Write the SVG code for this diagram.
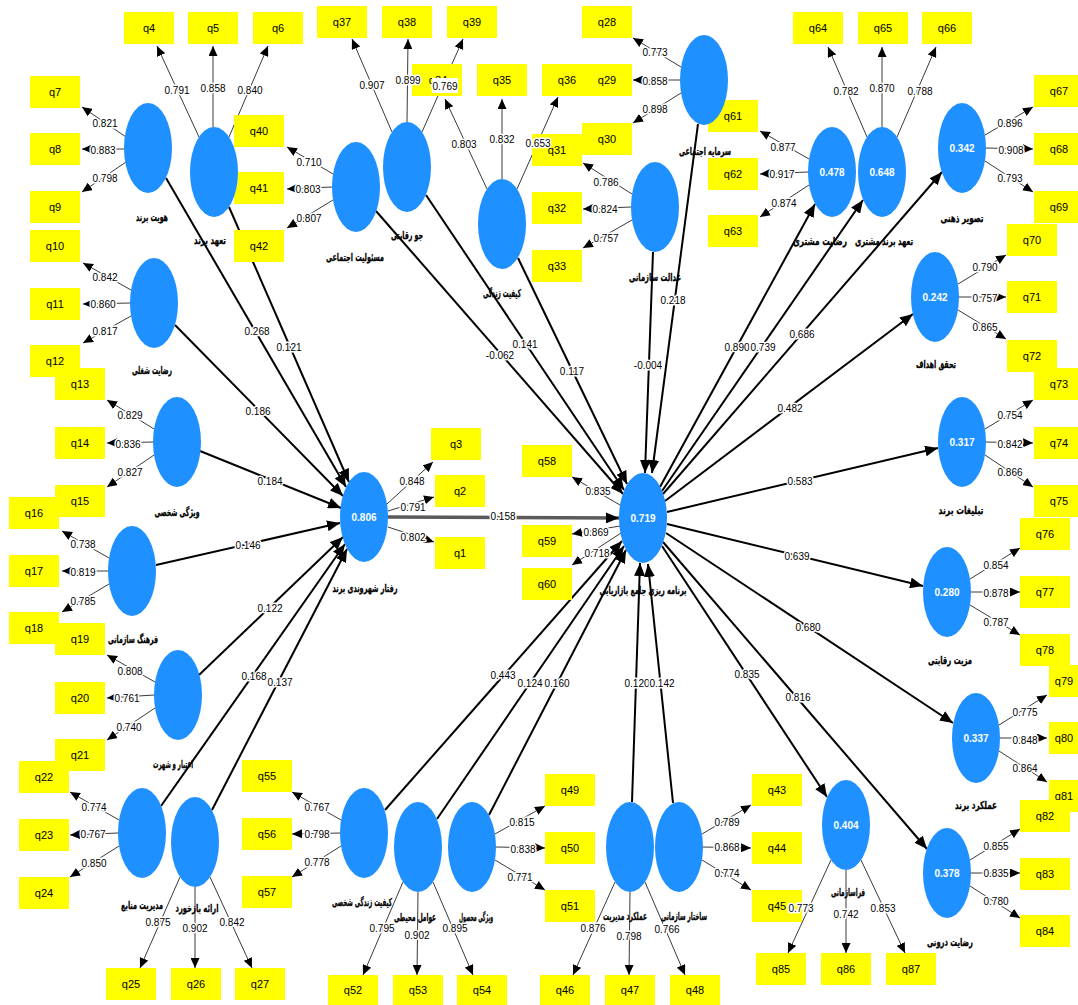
<svg xmlns="http://www.w3.org/2000/svg" width="1078" height="1005" viewBox="0 0 1078 1005">
<style>
.bg{fill:#fff}
.box{fill:#ffff00}
.bt{font-family:"Liberation Sans",Arial,sans-serif;font-size:11px;fill:#000;text-anchor:middle;dominant-baseline:central}
.lv{fill:#1e90ff}
.val{font-family:"Liberation Sans",Arial,sans-serif;font-size:10px;font-weight:bold;fill:#fff;text-anchor:middle;dominant-baseline:central}
.nm{font-family:"DejaVu Sans",sans-serif;font-size:11px;font-weight:bold;fill:#000;stroke:#000;stroke-width:0.3px;text-anchor:middle;dominant-baseline:central}
.ld{stroke:#3a3a3a;stroke-width:1;fill:none;marker-end:url(#as)}
.pt{stroke:#000;stroke-width:2;fill:none;marker-end:url(#ab)}
.pt2{stroke:#5a5a5a;stroke-width:3.5;fill:none;marker-end:url(#ab)}
.lb{font-family:"Liberation Sans",Arial,sans-serif;font-size:10px;fill:#000;text-anchor:middle;dominant-baseline:central;paint-order:stroke;stroke:#fff;stroke-width:3px;stroke-linejoin:round}
</style>
<defs>
<marker id="ab" markerWidth="13" markerHeight="11" refX="13" refY="5.5" orient="auto" markerUnits="userSpaceOnUse"><path d="M0,0 L13,5.5 L0,11 z" fill="#000"/></marker>
<marker id="as" markerWidth="10" markerHeight="9" refX="10" refY="4.5" orient="auto" markerUnits="userSpaceOnUse"><path d="M0,0 L10,4.5 L0,9 z" fill="#000"/></marker>
</defs>
<rect class="bg" x="0" y="0" width="1078" height="1005"/>

<g id="connectors">
<!-- outer loadings: construct to indicator -->
<line class="ld" x1="126" y1="137" x2="82" y2="107"/>
<line class="ld" x1="124" y1="149" x2="82" y2="149"/>
<line class="ld" x1="126" y1="162" x2="82" y2="192"/>
<line class="ld" x1="199" y1="137" x2="157" y2="46"/>
<line class="ld" x1="213" y1="127" x2="213" y2="46"/>
<line class="ld" x1="229" y1="137" x2="268" y2="46"/>
<line class="ld" x1="131" y1="290" x2="83" y2="263"/>
<line class="ld" x1="130" y1="303" x2="83" y2="304"/>
<line class="ld" x1="131" y1="316" x2="83" y2="343"/>
<line class="ld" x1="154" y1="429" x2="107" y2="400"/>
<line class="ld" x1="153" y1="442" x2="107" y2="443"/>
<line class="ld" x1="154" y1="455" x2="107" y2="487"/>
<line class="ld" x1="109" y1="558" x2="62" y2="531"/>
<line class="ld" x1="108" y1="571" x2="62" y2="571"/>
<line class="ld" x1="109" y1="584" x2="62" y2="612"/>
<line class="ld" x1="155" y1="682" x2="107" y2="655"/>
<line class="ld" x1="154" y1="695" x2="107" y2="698"/>
<line class="ld" x1="155" y1="708" x2="107" y2="740"/>
<line class="ld" x1="119" y1="820" x2="70" y2="792"/>
<line class="ld" x1="118" y1="833" x2="70" y2="835"/>
<line class="ld" x1="119" y1="846" x2="70" y2="877"/>
<line class="ld" x1="180" y1="877" x2="140" y2="968"/>
<line class="ld" x1="195" y1="887" x2="195" y2="968"/>
<line class="ld" x1="210" y1="877" x2="252" y2="968"/>
<line class="ld" x1="333" y1="174" x2="287" y2="147"/>
<line class="ld" x1="332" y1="187" x2="287" y2="189"/>
<line class="ld" x1="333" y1="200" x2="287" y2="228"/>
<line class="ld" x1="392" y1="132" x2="352" y2="39"/>
<line class="ld" x1="407" y1="122" x2="408" y2="39"/>
<line class="ld" x1="422" y1="132" x2="463" y2="39"/>
<line class="ld" x1="487" y1="189" x2="445" y2="99"/>
<line class="ld" x1="502" y1="179" x2="502" y2="99"/>
<line class="ld" x1="517" y1="189" x2="558" y2="97"/>
<line class="ld" x1="681" y1="67" x2="633" y2="38"/>
<line class="ld" x1="680" y1="80" x2="633" y2="80"/>
<line class="ld" x1="681" y1="93" x2="633" y2="123"/>
<line class="ld" x1="632" y1="194" x2="583" y2="163"/>
<line class="ld" x1="631" y1="207" x2="583" y2="209"/>
<line class="ld" x1="632" y1="220" x2="583" y2="248"/>
<line class="ld" x1="387" y1="504" x2="433" y2="462"/>
<line class="ld" x1="388" y1="511" x2="434" y2="497"/>
<line class="ld" x1="388" y1="527" x2="434" y2="542"/>
<line class="ld" x1="620" y1="505" x2="572" y2="477"/>
<line class="ld" x1="620" y1="526" x2="572" y2="534"/>
<line class="ld" x1="621" y1="533" x2="572" y2="565"/>
<line class="ld" x1="809" y1="159" x2="760" y2="131"/>
<line class="ld" x1="808" y1="172" x2="760" y2="174"/>
<line class="ld" x1="809" y1="185" x2="760" y2="217"/>
<line class="ld" x1="867" y1="137" x2="828" y2="47"/>
<line class="ld" x1="882" y1="127" x2="882" y2="47"/>
<line class="ld" x1="897" y1="137" x2="936" y2="47"/>
<line class="ld" x1="985" y1="135" x2="1033" y2="107"/>
<line class="ld" x1="986" y1="148" x2="1033" y2="149"/>
<line class="ld" x1="985" y1="161" x2="1033" y2="192"/>
<line class="ld" x1="958" y1="284" x2="1006" y2="255"/>
<line class="ld" x1="959" y1="297" x2="1006" y2="297"/>
<line class="ld" x1="958" y1="310" x2="1006" y2="339"/>
<line class="ld" x1="985" y1="429" x2="1033" y2="400"/>
<line class="ld" x1="986" y1="442" x2="1033" y2="443"/>
<line class="ld" x1="985" y1="455" x2="1033" y2="487"/>
<line class="ld" x1="970" y1="579" x2="1020" y2="548"/>
<line class="ld" x1="971" y1="592" x2="1020" y2="592"/>
<line class="ld" x1="970" y1="605" x2="1020" y2="635"/>
<line class="ld" x1="999" y1="725" x2="1047" y2="695"/>
<line class="ld" x1="1000" y1="738" x2="1047" y2="738"/>
<line class="ld" x1="999" y1="751" x2="1047" y2="782"/>
<line class="ld" x1="970" y1="860" x2="1020" y2="829"/>
<line class="ld" x1="971" y1="873" x2="1020" y2="873"/>
<line class="ld" x1="970" y1="886" x2="1020" y2="918"/>
<line class="ld" x1="831" y1="860" x2="788" y2="953"/>
<line class="ld" x1="846" y1="870" x2="846" y2="953"/>
<line class="ld" x1="861" y1="860" x2="905" y2="953"/>
<line class="ld" x1="341" y1="820" x2="292" y2="792"/>
<line class="ld" x1="340" y1="833" x2="292" y2="834"/>
<line class="ld" x1="341" y1="846" x2="292" y2="877"/>
<line class="ld" x1="403" y1="882" x2="363" y2="975"/>
<line class="ld" x1="418" y1="892" x2="417" y2="975"/>
<line class="ld" x1="433" y1="882" x2="473" y2="975"/>
<line class="ld" x1="495" y1="834" x2="545" y2="806"/>
<line class="ld" x1="496" y1="847" x2="545" y2="848"/>
<line class="ld" x1="495" y1="860" x2="545" y2="890"/>
<line class="ld" x1="615" y1="882" x2="573" y2="975"/>
<line class="ld" x1="630" y1="892" x2="629" y2="975"/>
<line class="ld" x1="645" y1="882" x2="685" y2="975"/>
<line class="ld" x1="702" y1="834" x2="751" y2="805"/>
<line class="ld" x1="703" y1="847" x2="751" y2="848"/>
<line class="ld" x1="702" y1="860" x2="751" y2="890"/>

<!-- inner model paths -->
<line class="pt" x1="166" y1="178" x2="346" y2="487"/>
<line class="pt" x1="229" y1="207" x2="349" y2="482"/>
<line class="pt" x1="175" y1="325" x2="343" y2="496"/>
<line class="pt" x1="200" y1="451" x2="341" y2="508"/>
<line class="pt" x1="156" y1="565" x2="340" y2="523"/>
<line class="pt" x1="199" y1="675" x2="343" y2="537"/>
<line class="pt" x1="161" y1="806" x2="345" y2="544"/>
<line class="pt" x1="212" y1="810" x2="347" y2="549"/>
<line class="pt2" x1="388" y1="517" x2="619" y2="518"/>
<line class="pt" x1="376" y1="211" x2="623" y2="494"/>
<line class="pt" x1="426" y1="195" x2="624" y2="490"/>
<line class="pt" x1="518" y1="258" x2="627" y2="484"/>
<line class="pt" x1="653" y1="252" x2="645" y2="473"/>
<line class="pt" x1="698" y1="124" x2="652" y2="473"/>
<line class="pt" x1="385" y1="810" x2="622" y2="541"/>
<line class="pt" x1="437" y1="819" x2="624" y2="546"/>
<line class="pt" x1="489" y1="815" x2="626" y2="550"/>
<line class="pt" x1="632" y1="802" x2="640" y2="563"/>
<line class="pt" x1="673" y1="803" x2="648" y2="564"/>
<line class="pt" x1="660" y1="487" x2="815" y2="204"/>
<line class="pt" x1="662" y1="491" x2="863" y2="200"/>
<line class="pt" x1="663" y1="494" x2="942" y2="172"/>
<line class="pt" x1="665" y1="501" x2="913" y2="314"/>
<line class="pt" x1="667" y1="512" x2="938" y2="448"/>
<line class="pt" x1="667" y1="524" x2="923" y2="586"/>
<line class="pt" x1="666" y1="533" x2="953" y2="723"/>
<line class="pt" x1="663" y1="542" x2="927" y2="849"/>
<line class="pt" x1="662" y1="546" x2="827" y2="797"/>
</g>

<!-- indicators -->
<g id="q1"><rect class="box" x="435" y="537" width="50" height="32"/><text class="bt" x="460" y="553">q1</text></g>
<g id="q2"><rect class="box" x="435" y="475" width="50" height="32"/><text class="bt" x="460" y="491">q2</text></g>
<g id="q3"><rect class="box" x="431" y="428" width="50" height="32"/><text class="bt" x="456" y="444">q3</text></g>
<g id="q4"><rect class="box" x="124" y="12" width="50" height="32"/><text class="bt" x="149" y="28">q4</text></g>
<g id="q5"><rect class="box" x="188" y="12" width="50" height="32"/><text class="bt" x="213" y="28">q5</text></g>
<g id="q6"><rect class="box" x="253" y="12" width="50" height="32"/><text class="bt" x="278" y="28">q6</text></g>
<g id="q7"><rect class="box" x="30" y="76" width="50" height="32"/><text class="bt" x="55" y="92">q7</text></g>
<g id="q8"><rect class="box" x="30" y="133" width="50" height="32"/><text class="bt" x="55" y="149">q8</text></g>
<g id="q9"><rect class="box" x="30" y="191" width="50" height="32"/><text class="bt" x="55" y="207">q9</text></g>
<g id="q10"><rect class="box" x="30" y="230" width="50" height="32"/><text class="bt" x="55" y="246">q10</text></g>
<g id="q11"><rect class="box" x="30" y="288" width="50" height="32"/><text class="bt" x="55" y="304">q11</text></g>
<g id="q12"><rect class="box" x="30" y="345" width="50" height="32"/><text class="bt" x="55" y="361">q12</text></g>
<g id="q13"><rect class="box" x="55" y="368" width="50" height="32"/><text class="bt" x="80" y="384">q13</text></g>
<g id="q14"><rect class="box" x="55" y="427" width="50" height="32"/><text class="bt" x="80" y="443">q14</text></g>
<g id="q15"><rect class="box" x="55" y="485" width="50" height="32"/><text class="bt" x="80" y="501">q15</text></g>
<g id="q16"><rect class="box" x="9" y="497" width="50" height="32"/><text class="bt" x="34" y="513">q16</text></g>
<g id="q17"><rect class="box" x="9" y="555" width="50" height="32"/><text class="bt" x="34" y="571">q17</text></g>
<g id="q18"><rect class="box" x="9" y="612" width="50" height="32"/><text class="bt" x="34" y="628">q18</text></g>
<g id="q19"><rect class="box" x="55" y="623" width="50" height="32"/><text class="bt" x="80" y="639">q19</text></g>
<g id="q20"><rect class="box" x="55" y="682" width="50" height="32"/><text class="bt" x="80" y="698">q20</text></g>
<g id="q21"><rect class="box" x="55" y="739" width="50" height="32"/><text class="bt" x="80" y="755">q21</text></g>
<g id="q22"><rect class="box" x="19" y="761" width="50" height="32"/><text class="bt" x="44" y="777">q22</text></g>
<g id="q23"><rect class="box" x="19" y="819" width="50" height="32"/><text class="bt" x="44" y="835">q23</text></g>
<g id="q24"><rect class="box" x="19" y="877" width="50" height="32"/><text class="bt" x="44" y="893">q24</text></g>
<g id="q25"><rect class="box" x="106" y="968" width="50" height="32"/><text class="bt" x="131" y="984">q25</text></g>
<g id="q26"><rect class="box" x="171" y="968" width="50" height="32"/><text class="bt" x="196" y="984">q26</text></g>
<g id="q27"><rect class="box" x="235" y="968" width="50" height="32"/><text class="bt" x="260" y="984">q27</text></g>
<g id="q28"><rect class="box" x="582" y="6" width="50" height="32"/><text class="bt" x="607" y="22">q28</text></g>
<g id="q36"><rect class="box" x="542" y="64" width="50" height="32"/><text class="bt" x="567" y="80">q36</text></g>
<g id="q29"><rect class="box" x="582" y="64" width="50" height="32"/><text class="bt" x="607" y="80">q29</text></g>
<g id="q30"><rect class="box" x="582" y="123" width="50" height="32"/><text class="bt" x="607" y="139">q30</text></g>
<g id="q31"><rect class="box" x="532" y="134" width="50" height="32"/><text class="bt" x="557" y="150">q31</text></g>
<g id="q32"><rect class="box" x="532" y="192" width="50" height="32"/><text class="bt" x="557" y="208">q32</text></g>
<g id="q33"><rect class="box" x="532" y="250" width="50" height="32"/><text class="bt" x="557" y="266">q33</text></g>
<g id="q34"><rect class="box" x="412" y="64" width="50" height="32"/><text class="bt" x="438" y="80">q34</text></g>
<g id="q35"><rect class="box" x="477" y="64" width="50" height="32"/><text class="bt" x="502" y="80">q35</text></g>
<g id="q37"><rect class="box" x="317" y="6" width="50" height="32"/><text class="bt" x="342" y="22">q37</text></g>
<g id="q38"><rect class="box" x="382" y="6" width="50" height="32"/><text class="bt" x="407" y="22">q38</text></g>
<g id="q39"><rect class="box" x="447" y="6" width="50" height="32"/><text class="bt" x="472" y="22">q39</text></g>
<g id="q40"><rect class="box" x="234" y="115" width="50" height="32"/><text class="bt" x="259" y="131">q40</text></g>
<g id="q41"><rect class="box" x="234" y="172" width="50" height="32"/><text class="bt" x="259" y="188">q41</text></g>
<g id="q42"><rect class="box" x="234" y="230" width="50" height="32"/><text class="bt" x="259" y="246">q42</text></g>
<g id="q43"><rect class="box" x="752" y="774" width="50" height="32"/><text class="bt" x="777" y="790">q43</text></g>
<g id="q44"><rect class="box" x="752" y="832" width="50" height="32"/><text class="bt" x="777" y="848">q44</text></g>
<g id="q45"><rect class="box" x="752" y="890" width="50" height="32"/><text class="bt" x="777" y="906">q45</text></g>
<g id="q46"><rect class="box" x="540" y="975" width="50" height="30"/><text class="bt" x="565" y="990">q46</text></g>
<g id="q47"><rect class="box" x="605" y="975" width="50" height="30"/><text class="bt" x="630" y="990">q47</text></g>
<g id="q48"><rect class="box" x="670" y="975" width="50" height="30"/><text class="bt" x="695" y="990">q48</text></g>
<g id="q49"><rect class="box" x="545" y="774" width="50" height="32"/><text class="bt" x="570" y="790">q49</text></g>
<g id="q50"><rect class="box" x="545" y="832" width="50" height="32"/><text class="bt" x="570" y="848">q50</text></g>
<g id="q51"><rect class="box" x="545" y="890" width="50" height="32"/><text class="bt" x="570" y="906">q51</text></g>
<g id="q52"><rect class="box" x="328" y="975" width="50" height="30"/><text class="bt" x="353" y="990">q52</text></g>
<g id="q53"><rect class="box" x="393" y="975" width="50" height="30"/><text class="bt" x="418" y="990">q53</text></g>
<g id="q54"><rect class="box" x="457" y="975" width="50" height="30"/><text class="bt" x="482" y="990">q54</text></g>
<g id="q55"><rect class="box" x="242" y="760" width="50" height="32"/><text class="bt" x="267" y="776">q55</text></g>
<g id="q56"><rect class="box" x="242" y="818" width="50" height="32"/><text class="bt" x="267" y="834">q56</text></g>
<g id="q57"><rect class="box" x="242" y="876" width="50" height="32"/><text class="bt" x="267" y="892">q57</text></g>
<g id="q58"><rect class="box" x="522" y="445" width="50" height="32"/><text class="bt" x="547" y="461">q58</text></g>
<g id="q59"><rect class="box" x="522" y="525" width="50" height="32"/><text class="bt" x="547" y="541">q59</text></g>
<g id="q60"><rect class="box" x="522" y="568" width="50" height="32"/><text class="bt" x="547" y="584">q60</text></g>
<g id="q61"><rect class="box" x="708" y="100" width="50" height="32"/><text class="bt" x="733" y="116">q61</text></g>
<g id="q62"><rect class="box" x="708" y="158" width="50" height="32"/><text class="bt" x="733" y="174">q62</text></g>
<g id="q63"><rect class="box" x="708" y="215" width="50" height="32"/><text class="bt" x="733" y="231">q63</text></g>
<g id="q64"><rect class="box" x="793" y="12" width="50" height="32"/><text class="bt" x="818" y="28">q64</text></g>
<g id="q65"><rect class="box" x="858" y="12" width="50" height="32"/><text class="bt" x="883" y="28">q65</text></g>
<g id="q66"><rect class="box" x="922" y="12" width="50" height="32"/><text class="bt" x="947" y="28">q66</text></g>
<g id="q67"><rect class="box" x="1034" y="75" width="50" height="32"/><text class="bt" x="1059" y="91">q67</text></g>
<g id="q68"><rect class="box" x="1034" y="133" width="50" height="32"/><text class="bt" x="1059" y="149">q68</text></g>
<g id="q69"><rect class="box" x="1034" y="191" width="50" height="32"/><text class="bt" x="1059" y="207">q69</text></g>
<g id="q70"><rect class="box" x="1007" y="224" width="50" height="32"/><text class="bt" x="1032" y="240">q70</text></g>
<g id="q71"><rect class="box" x="1007" y="281" width="50" height="32"/><text class="bt" x="1032" y="297">q71</text></g>
<g id="q72"><rect class="box" x="1007" y="340" width="50" height="32"/><text class="bt" x="1032" y="356">q72</text></g>
<g id="q73"><rect class="box" x="1034" y="368" width="50" height="32"/><text class="bt" x="1059" y="384">q73</text></g>
<g id="q74"><rect class="box" x="1034" y="427" width="50" height="32"/><text class="bt" x="1059" y="443">q74</text></g>
<g id="q75"><rect class="box" x="1034" y="485" width="50" height="32"/><text class="bt" x="1059" y="501">q75</text></g>
<g id="q76"><rect class="box" x="1020" y="518" width="50" height="32"/><text class="bt" x="1045" y="534">q76</text></g>
<g id="q77"><rect class="box" x="1020" y="576" width="50" height="32"/><text class="bt" x="1045" y="592">q77</text></g>
<g id="q78"><rect class="box" x="1020" y="634" width="50" height="32"/><text class="bt" x="1045" y="650">q78</text></g>
<g id="q79"><rect class="box" x="1049" y="665" width="50" height="32"/><text class="bt" x="1064" y="681">q79</text></g>
<g id="q80"><rect class="box" x="1049" y="722" width="50" height="32"/><text class="bt" x="1064" y="738">q80</text></g>
<g id="q81"><rect class="box" x="1049" y="780" width="50" height="32"/><text class="bt" x="1064" y="796">q81</text></g>
<g id="q82"><rect class="box" x="1020" y="800" width="50" height="32"/><text class="bt" x="1045" y="816">q82</text></g>
<g id="q83"><rect class="box" x="1020" y="858" width="50" height="32"/><text class="bt" x="1045" y="874">q83</text></g>
<g id="q84"><rect class="box" x="1020" y="915" width="50" height="32"/><text class="bt" x="1045" y="931">q84</text></g>
<g id="q85"><rect class="box" x="756" y="953" width="50" height="32"/><text class="bt" x="781" y="969">q85</text></g>
<g id="q86"><rect class="box" x="821" y="953" width="50" height="32"/><text class="bt" x="846" y="969">q86</text></g>
<g id="q87"><rect class="box" x="886" y="953" width="50" height="32"/><text class="bt" x="911" y="969">q87</text></g>

<!-- latent constructs -->
<g id="lv-hoviat"><ellipse class="lv" cx="148" cy="148" rx="24" ry="45"/><text class="nm" x="152" y="217" textLength="32" lengthAdjust="spacingAndGlyphs">هویت برند</text></g>
<g id="lv-taahod"><ellipse class="lv" cx="214" cy="172" rx="24" ry="45"/><text class="nm" x="210" y="240" textLength="32" lengthAdjust="spacingAndGlyphs">تعهد برند</text></g>
<g id="lv-rezayat-shoghli"><ellipse class="lv" cx="154" cy="303" rx="24" ry="45"/><text class="nm" x="152" y="370" textLength="40" lengthAdjust="spacingAndGlyphs">رضایت شغلی</text></g>
<g id="lv-vizhegi-shakhsi"><ellipse class="lv" cx="177" cy="442" rx="24" ry="45"/><text class="nm" x="177" y="512" textLength="45" lengthAdjust="spacingAndGlyphs">ویژگی شخصی</text></g>
<g id="lv-farhang"><ellipse class="lv" cx="132" cy="571" rx="24" ry="45"/><text class="nm" x="133" y="639" textLength="50" lengthAdjust="spacingAndGlyphs">فرهنگ سازمانی</text></g>
<g id="lv-etebar"><ellipse class="lv" cx="178" cy="695" rx="24" ry="45"/><text class="nm" x="173" y="764" textLength="40" lengthAdjust="spacingAndGlyphs">اعتبار و شهرت</text></g>
<g id="lv-modiriat-manabe"><ellipse class="lv" cx="142" cy="833" rx="24" ry="45"/><text class="nm" x="142" y="905" textLength="42" lengthAdjust="spacingAndGlyphs">مدیریت منابع</text></g>
<g id="lv-bazkhord"><ellipse class="lv" cx="195" cy="842" rx="24" ry="45"/><text class="nm" x="197" y="908" textLength="43" lengthAdjust="spacingAndGlyphs">ارائه بازخورد</text></g>
<g id="lv-masouliat"><ellipse class="lv" cx="356" cy="187" rx="24" ry="45"/><text class="nm" x="355" y="257" textLength="58" lengthAdjust="spacingAndGlyphs">مسئولیت اجتماعی</text></g>
<g id="lv-jav"><ellipse class="lv" cx="407" cy="167" rx="24" ry="45"/><text class="nm" x="407" y="235" textLength="32" lengthAdjust="spacingAndGlyphs">جو رقابتی</text></g>
<g id="lv-keyfiat"><ellipse class="lv" cx="502" cy="224" rx="24" ry="45"/><text class="nm" x="502" y="293" textLength="38" lengthAdjust="spacingAndGlyphs">کیفیت زندگی</text></g>
<g id="lv-sarmaye"><ellipse class="lv" cx="704" cy="80" rx="24" ry="45"/><text class="nm" x="705" y="151" textLength="52" lengthAdjust="spacingAndGlyphs">سرمایه اجتماعی</text></g>
<g id="lv-edalat"><ellipse class="lv" cx="655" cy="207" rx="24" ry="45"/><text class="nm" x="655" y="277" textLength="52" lengthAdjust="spacingAndGlyphs">عدالت سازمانی</text></g>
<g id="lv-raftar"><ellipse class="lv" cx="364" cy="517" rx="24" ry="45"/><text class="val" x="364" y="517">0.806</text><text class="nm" x="365" y="588" textLength="65" lengthAdjust="spacingAndGlyphs">رفتار شهروندی برند</text></g>
<g id="lv-barnameh"><ellipse class="lv" cx="643" cy="518" rx="24" ry="45"/><text class="val" x="643" y="518">0.719</text><text class="nm" x="643" y="590" textLength="87" lengthAdjust="spacingAndGlyphs">برنامه ریزی جامع بازاریابی</text></g>
<g id="lv-rezayat-moshtari"><ellipse class="lv" cx="832" cy="172" rx="24" ry="45"/><text class="val" x="832" y="172">0.478</text><text class="nm" x="820" y="241" textLength="54" lengthAdjust="spacingAndGlyphs">رضایت مشتری</text></g>
<g id="lv-taahod-moshtari"><ellipse class="lv" cx="882" cy="172" rx="24" ry="45"/><text class="val" x="882" y="172">0.648</text><text class="nm" x="884" y="241" textLength="58" lengthAdjust="spacingAndGlyphs">تعهد برند مشتری</text></g>
<g id="lv-tasvir"><ellipse class="lv" cx="962" cy="148" rx="24" ry="45"/><text class="val" x="962" y="148">0.342</text><text class="nm" x="962" y="218" textLength="43" lengthAdjust="spacingAndGlyphs">تصویر ذهنی</text></g>
<g id="lv-tahaghogh"><ellipse class="lv" cx="935" cy="297" rx="24" ry="45"/><text class="val" x="935" y="297">0.242</text><text class="nm" x="936" y="364" textLength="40" lengthAdjust="spacingAndGlyphs">تحقق اهداف</text></g>
<g id="lv-tabliqat"><ellipse class="lv" cx="962" cy="442" rx="24" ry="45"/><text class="val" x="962" y="442">0.317</text><text class="nm" x="961" y="510" textLength="45" lengthAdjust="spacingAndGlyphs">تبلیغات برند</text></g>
<g id="lv-mazit"><ellipse class="lv" cx="947" cy="592" rx="24" ry="45"/><text class="val" x="947" y="592">0.280</text><text class="nm" x="950" y="660" textLength="44" lengthAdjust="spacingAndGlyphs">مزیت رقابتی</text></g>
<g id="lv-amalkard-brand"><ellipse class="lv" cx="976" cy="738" rx="24" ry="45"/><text class="val" x="976" y="738">0.337</text><text class="nm" x="976" y="805" textLength="42" lengthAdjust="spacingAndGlyphs">عملکرد برند</text></g>
<g id="lv-rezayat-darooni"><ellipse class="lv" cx="947" cy="873" rx="24" ry="45"/><text class="val" x="947" y="873">0.378</text><text class="nm" x="950" y="942" textLength="46" lengthAdjust="spacingAndGlyphs">رضایت درونی</text></g>
<g id="lv-farasazmani"><ellipse class="lv" cx="846" cy="825" rx="24" ry="45"/><text class="val" x="846" y="825">0.404</text><text class="nm" x="848" y="892" textLength="34" lengthAdjust="spacingAndGlyphs">فراسازمانی</text></g>
<g id="lv-keyfiat-shakhsi"><ellipse class="lv" cx="364" cy="833" rx="24" ry="45"/><text class="nm" x="362" y="902" textLength="60" lengthAdjust="spacingAndGlyphs">کیفیت زندگی شخصی</text></g>
<g id="lv-avamel"><ellipse class="lv" cx="418" cy="847" rx="24" ry="45"/><text class="nm" x="415" y="917" textLength="42" lengthAdjust="spacingAndGlyphs">عوامل محیطی</text></g>
<g id="lv-vizhegi-mahsool"><ellipse class="lv" cx="472" cy="847" rx="24" ry="45"/><text class="nm" x="476" y="917" textLength="34" lengthAdjust="spacingAndGlyphs">ویژگی محصول</text></g>
<g id="lv-amalkard-modiriat"><ellipse class="lv" cx="630" cy="847" rx="24" ry="45"/><text class="nm" x="625" y="916" textLength="44" lengthAdjust="spacingAndGlyphs">عملکرد مدیریت</text></g>
<g id="lv-sakhtar"><ellipse class="lv" cx="679" cy="847" rx="24" ry="45"/><text class="nm" x="684" y="916" textLength="46" lengthAdjust="spacingAndGlyphs">ساختار سازمانی</text></g>

<g id="connector-labels">
<text class="lb" x="105" y="123">0.821</text>
<text class="lb" x="103" y="150">0.883</text>
<text class="lb" x="105" y="178">0.798</text>
<text class="lb" x="177" y="90">0.791</text>
<text class="lb" x="213" y="88">0.858</text>
<text class="lb" x="250" y="90">0.840</text>
<text class="lb" x="105" y="277">0.842</text>
<text class="lb" x="103" y="304">0.860</text>
<text class="lb" x="105" y="331">0.817</text>
<text class="lb" x="130" y="415">0.829</text>
<text class="lb" x="128" y="444">0.836</text>
<text class="lb" x="130" y="472">0.827</text>
<text class="lb" x="83" y="544">0.738</text>
<text class="lb" x="83" y="572">0.819</text>
<text class="lb" x="83" y="601">0.785</text>
<text class="lb" x="130" y="671">0.808</text>
<text class="lb" x="127" y="698">0.761</text>
<text class="lb" x="129" y="727">0.740</text>
<text class="lb" x="94" y="807">0.774</text>
<text class="lb" x="93" y="834">0.767</text>
<text class="lb" x="94" y="863">0.850</text>
<text class="lb" x="158" y="922">0.875</text>
<text class="lb" x="195" y="928">0.902</text>
<text class="lb" x="232" y="922">0.842</text>
<text class="lb" x="309" y="162">0.710</text>
<text class="lb" x="308" y="189">0.803</text>
<text class="lb" x="309" y="218">0.807</text>
<text class="lb" x="372" y="85">0.907</text>
<text class="lb" x="408" y="80">0.899</text>
<rect x="432" y="78" width="26" height="15" fill="#fff"/>
<text class="lb" x="445" y="86">0.769</text>
<text class="lb" x="464" y="144">0.803</text>
<text class="lb" x="502" y="139">0.832</text>
<text class="lb" x="538" y="143">0.653</text>
<text class="lb" x="655" y="52">0.773</text>
<text class="lb" x="655" y="81">0.858</text>
<text class="lb" x="655" y="109">0.898</text>
<text class="lb" x="606" y="182">0.786</text>
<text class="lb" x="605" y="209">0.824</text>
<text class="lb" x="606" y="238">0.757</text>
<text class="lb" x="412" y="481">0.848</text>
<text class="lb" x="413" y="507">0.791</text>
<text class="lb" x="413" y="537">0.802</text>
<text class="lb" x="598" y="491">0.835</text>
<text class="lb" x="596" y="532">0.869</text>
<text class="lb" x="597" y="553">0.718</text>
<text class="lb" x="783" y="147">0.877</text>
<text class="lb" x="782" y="174">0.917</text>
<text class="lb" x="784" y="203">0.874</text>
<text class="lb" x="846" y="91">0.782</text>
<text class="lb" x="882" y="88">0.870</text>
<text class="lb" x="920" y="91">0.788</text>
<text class="lb" x="1010" y="123">0.896</text>
<text class="lb" x="1011" y="150">0.908</text>
<text class="lb" x="1010" y="178">0.793</text>
<text class="lb" x="985" y="267">0.790</text>
<text class="lb" x="985" y="298">0.757</text>
<text class="lb" x="985" y="327">0.865</text>
<text class="lb" x="1010" y="415">0.754</text>
<text class="lb" x="1010" y="444">0.842</text>
<text class="lb" x="1010" y="472">0.866</text>
<text class="lb" x="996" y="565">0.854</text>
<text class="lb" x="996" y="593">0.878</text>
<text class="lb" x="996" y="622">0.787</text>
<text class="lb" x="1025" y="712">0.775</text>
<text class="lb" x="1025" y="740">0.848</text>
<text class="lb" x="1025" y="768">0.864</text>
<text class="lb" x="996" y="846">0.855</text>
<text class="lb" x="996" y="873">0.835</text>
<text class="lb" x="996" y="901">0.780</text>
<text class="lb" x="801" y="908">0.773</text>
<text class="lb" x="846" y="914">0.742</text>
<text class="lb" x="883" y="908">0.853</text>
<text class="lb" x="317" y="807">0.767</text>
<text class="lb" x="317" y="834">0.798</text>
<text class="lb" x="317" y="862">0.778</text>
<text class="lb" x="382" y="928">0.795</text>
<text class="lb" x="417" y="935">0.902</text>
<text class="lb" x="455" y="928">0.895</text>
<text class="lb" x="522" y="822">0.815</text>
<text class="lb" x="523" y="849">0.838</text>
<text class="lb" x="520" y="877">0.771</text>
<text class="lb" x="593" y="928">0.876</text>
<text class="lb" x="629" y="936">0.798</text>
<text class="lb" x="667" y="929">0.766</text>
<text class="lb" x="727" y="822">0.789</text>
<text class="lb" x="727" y="847">0.868</text>
<text class="lb" x="727" y="873">0.774</text>
<!-- path coefficients -->
<text class="lb" x="257" y="331">0.268</text>
<text class="lb" x="289" y="347">0.121</text>
<text class="lb" x="258" y="411">0.186</text>
<text class="lb" x="270" y="481">0.184</text>
<text class="lb" x="248" y="545">0.146</text>
<text class="lb" x="270" y="608">0.122</text>
<text class="lb" x="254" y="676">0.168</text>
<text class="lb" x="280" y="682">0.137</text>
<text class="lb" x="503" y="516">0.158</text>
<text class="lb" x="500" y="355">-0.062</text>
<text class="lb" x="525" y="344">0.141</text>
<text class="lb" x="572" y="371">0.117</text>
<text class="lb" x="648" y="365">-0.004</text>
<text class="lb" x="673" y="300">0.218</text>
<text class="lb" x="503" y="675">0.443</text>
<text class="lb" x="530" y="683">0.124</text>
<text class="lb" x="557" y="683">0.160</text>
<text class="lb" x="637" y="683">0.120</text>
<text class="lb" x="662" y="683">0.142</text>
<text class="lb" x="737" y="347">0.890</text>
<text class="lb" x="763" y="347">0.739</text>
<text class="lb" x="802" y="334">0.686</text>
<text class="lb" x="790" y="408">0.482</text>
<text class="lb" x="800" y="481">0.583</text>
<text class="lb" x="797" y="556">0.639</text>
<text class="lb" x="808" y="627">0.680</text>
<text class="lb" x="798" y="697">0.816</text>
<text class="lb" x="747" y="674">0.835</text>
</g>
</svg>
